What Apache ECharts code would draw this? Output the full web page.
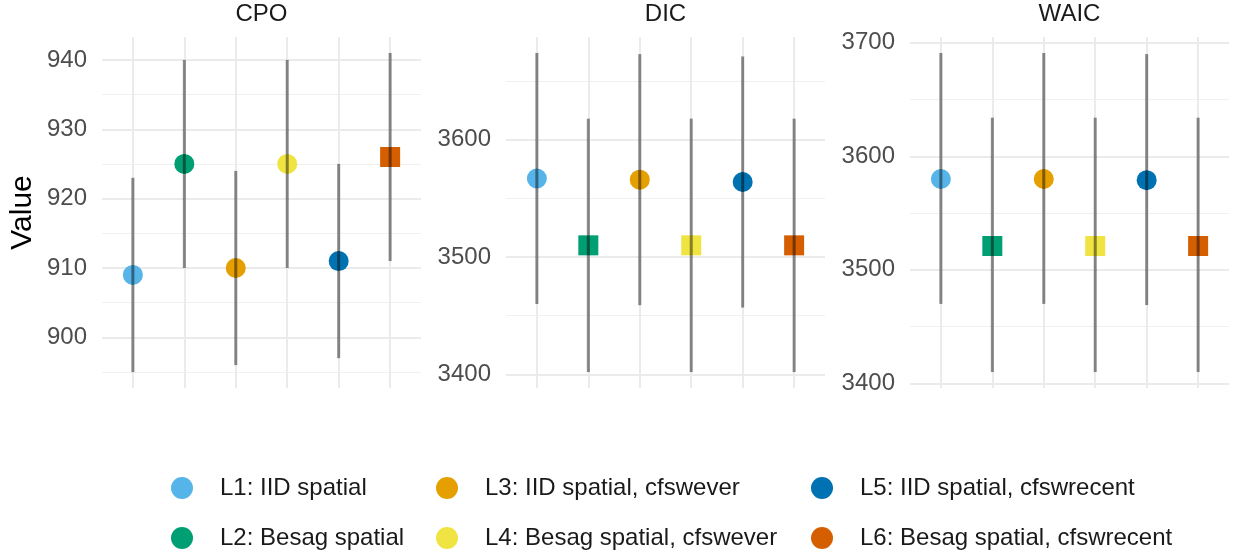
<!DOCTYPE html>
<html><head><meta charset="utf-8">
<script src="https://cdn.jsdelivr.net/npm/echarts@6/dist/echarts.min.js"></script>
<style>html,body{margin:0;padding:0;background:#fff}#c{width:1233px;height:554px}</style>
</head><body><div id="c"></div>
<script>
const models = ['L1: IID spatial', 'L2: Besag spatial', 'L3: IID spatial, cfswever',
  'L4: Besag spatial, cfswever', 'L5: IID spatial, cfswrecent', 'L6: Besag spatial, cfswrecent'];
const modelColors = ['#56B4E9', '#009E73', '#E69F00', '#F0E442', '#0072B2', '#D55E00'];
const panels = ['CPO', 'DIC', 'WAIC'];

const cpoValue = [909, 925, 910, 925, 911, 926];
const cpoLower = [895, 910, 896, 910, 897, 911];
const cpoUpper = [923, 940, 924, 940, 925, 941];
const cpoBest  = [0, 0, 0, 0, 0, 1];

const dicValue = [3567, 3510, 3566, 3510, 3564, 3510];
const dicLower = [3460, 3402, 3459, 3402, 3457, 3402];
const dicUpper = [3674, 3618, 3673, 3618, 3671, 3618];
const dicBest  = [0, 1, 0, 1, 0, 1];

const waicValue = [3580, 3521, 3580, 3521, 3579, 3521];
const waicLower = [3470, 3410, 3470, 3410, 3469, 3410];
const waicUpper = [3691, 3634, 3691, 3634, 3690, 3634];
const waicBest  = [0, 1, 0, 1, 0, 1];

const cpoTicks = [900, 910, 920, 930, 940];
const cpoMinorTicks = [895, 905, 915, 925, 935];
const dicTicks = [3400, 3500, 3600];
const dicMinorTicks = [3450, 3550, 3650];
const waicTicks = [3400, 3500, 3600, 3700];
const waicMinorTicks = [3450, 3550, 3650];

const panelData = [
  {value: cpoValue, lower: cpoLower, upper: cpoUpper, best: cpoBest, ticks: cpoTicks, minor: cpoMinorTicks},
  {value: dicValue, lower: dicLower, upper: dicUpper, best: dicBest, ticks: dicTicks, minor: dicMinorTicks},
  {value: waicValue, lower: waicLower, upper: waicUpper, best: waicBest, ticks: waicTicks, minor: waicMinorTicks}
];

const FONT = '"Liberation Sans", Arial, Helvetica, sans-serif';
const gridLeft = [102, 506, 910];
const gridTop = 37, gridW = 319, gridH = 351;
const xPositions = models.map((m, i) => i + 1);

const grids = [], xAxes = [], yAxes = [], series = [], titles = [];
panelData.forEach((pd, p) => {
  const lo = Math.min(...pd.lower), hi = Math.max(...pd.upper);
  const pad = (hi - lo) * 0.05;
  const ymin = lo - pad, ymax = hi + pad;
  grids.push({left: gridLeft[p], top: gridTop, width: gridW, height: gridH,
    containLabel: false, outerBoundsMode: 'none'});
  titles.push({text: panels[p], left: gridLeft[p] + gridW / 2, top: 2, textAlign: 'center', padding: 0,
    textStyle: {fontFamily: FONT, fontSize: 24, fontWeight: 'normal', color: '#1a1a1a'}});
  xAxes.push({type: 'value', gridIndex: p, min: 0.4, max: 6.6,
    axisLine: {show: false},
    axisTick: {show: false, customValues: xPositions},
    axisLabel: {show: false, customValues: xPositions},
    splitLine: {show: true, lineStyle: {color: '#ebebeb', width: 2}}
  });
  yAxes.push({type: 'value', gridIndex: p, min: ymin, max: ymax,
    axisLine: {show: false},
    axisTick: {show: false, customValues: pd.ticks},
    axisLabel: {show: true, customValues: pd.ticks, margin: 15, fontFamily: FONT, fontSize: 24,
      color: '#4d4d4d', formatter: v => String(Math.round(v))},
    splitLine: {show: true, lineStyle: {color: '#ebebeb', width: 2}},
    name: p === 0 ? 'Value' : '', nameLocation: 'middle', nameGap: 64, nameRotate: 90,
    nameTextStyle: {fontFamily: FONT, fontSize: 30, color: '#000'}
  });
  yAxes.push({type: 'value', gridIndex: p, min: ymin, max: ymax,
    axisLine: {show: false},
    axisTick: {show: false, customValues: pd.minor},
    axisLabel: {show: false, customValues: pd.minor},
    splitLine: {show: true, lineStyle: {color: '#f0f0f0', width: 1}}
  });
  models.forEach((m, i) => {
    series.push({type: 'scatter', name: m, xAxisIndex: p, yAxisIndex: 2 * p,
      data: [[xPositions[i], pd.value[i]]],
      symbol: pd.best[i] ? 'rect' : 'circle', symbolSize: 20,
      itemStyle: {color: modelColors[i], opacity: 1}, z: 3, silent: true});
  });
  series.push({type: 'custom', name: panels[p] + ' interval', xAxisIndex: p, yAxisIndex: 2 * p,
    data: models.map((m, i) => [xPositions[i], pd.lower[i], pd.upper[i]]),
    encode: {x: 0, y: [1, 2]}, z: 4, silent: true,
    renderItem: (params, api) => {
      const a = api.coord([api.value(0), api.value(1)]);
      const b = api.coord([api.value(0), api.value(2)]);
      return {type: 'line', shape: {x1: a[0], y1: a[1], x2: b[0], y2: b[1]},
        style: {stroke: 'rgba(0,0,0,0.45)', lineWidth: 3}};
    }
  });
});

const legendLeft = [171, 436, 811];
const legends = [0, 1, 2].map(c => ({
  data: [models[2 * c], models[2 * c + 1]], orient: 'vertical',
  left: legendLeft[c], top: 476, width: 380, height: 100, padding: 0,
  itemWidth: 22, itemHeight: 22, itemGap: 26,
  icon: 'circle', selectedMode: false,
  textStyle: {fontFamily: FONT, fontSize: 24, lineHeight: 24, color: '#1a1a1a', padding: [0, 0, 0, 22]}
}));

const chart = echarts.init(document.getElementById('c'), null, {renderer: 'canvas'});
chart.setOption({
  animation: false, backgroundColor: '#fff',
  title: titles, grid: grids, xAxis: xAxes, yAxis: yAxes, legend: legends, series: series
});
</script></body></html>
